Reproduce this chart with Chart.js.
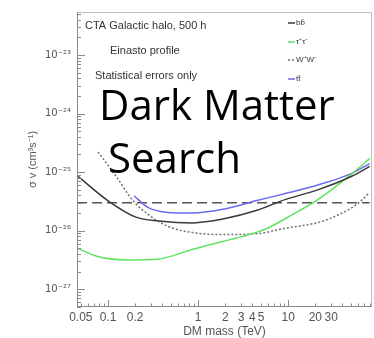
<!DOCTYPE html>
<html>
<head>
<meta charset="utf-8">
<script src="https://cdn.jsdelivr.net/npm/chart.js@4"></script>
<style>
  body { margin: 0; background: #fff; }
  canvas { display: block; }
</style>
</head>
<body>
<canvas id="dmChart" width="374" height="338"></canvas>
<script>
// masses in TeV, <sigma v> in cm^3 s^-1
var massBB = [0.0455, 0.103, 0.204, 0.367, 0.875, 1.88, 4.49, 9.2, 21.3, 50.7, 80];
var svBB = [8.7e-26, 3.15e-26, 1.71e-26, 1.47e-26, 1.36e-26, 1.58e-26, 2.23e-26, 3.4e-26, 4.99e-26, 8.5e-26, 1.25e-25];

var massTau = [0.0455, 0.0736, 0.158, 0.367, 0.875, 1.88, 3.06, 5.62, 9.9, 21.3, 50.7, 80];
var svTau = [5.1e-27, 3.7e-27, 3.18e-27, 3.3e-27, 4.84e-27, 6.58e-27, 7.94e-27, 1.07e-26, 1.7e-26, 3.39e-26, 9.33e-26, 1.7e-25];

var massWW = [0.0775, 0.123, 0.189, 0.285, 0.475, 0.875, 1.88, 4.49, 9.16, 21.3, 34.7, 57.5, 80];
var svWW = [2.21e-25, 8.5e-26, 3.27e-26, 1.85e-26, 1.17e-26, 9.3e-27, 8.6e-27, 8.9e-27, 1.1e-26, 1.38e-26, 1.82e-26, 2.82e-26, 4.47e-26];

var massTT = [0.194, 0.277, 0.44, 0.875, 1.88, 4.49, 10, 21.3, 50.7, 80];
var svTT = [3.96e-26, 2.5e-26, 2.07e-26, 2.0e-26, 2.32e-26, 3.27e-26, 4.45e-26, 6.04e-26, 9.55e-26, 1.4e-25];

// thermal relic cross section
var massRelic = [0.0453, 80];
var svRelic = [3e-26, 3e-26];

var massLabels = [0.05, 0.1, 0.2, 1, 2, 3, 4, 5, 10, 20, 30];
var xMin = 0.0453, xMax = 85;
var yMin = 5e-28, yMax = 5.4e-23;

var notes = ["CTA Galactic halo, 500 h", "Einasto profile", "Statistical errors only"];
var overlay = ["Dark Matter", "Search"];

function pts(xs, ys) {
  return xs.map(function (x, i) { return { x: x, y: ys[i] }; });
}

var sup = { "-": "\u207B", "0": "\u2070", "1": "\u00B9", "2": "\u00B2", "3": "\u00B3", "4": "\u2074",
  "5": "\u2075", "6": "\u2076", "7": "\u2077", "8": "\u2078", "9": "\u2079" };
function powLabel(e) {
  return "10" + String(e).split("").map(function (c) { return sup[c]; }).join("");
}

function logTicks(min, max) {
  var out = [];
  for (var e = Math.floor(Math.log10(min)); e <= Math.ceil(Math.log10(max)); e++) {
    for (var m = 1; m < 10; m++) {
      var v = +(m * Math.pow(10, e)).toPrecision(3);
      if (v >= min && v <= max) out.push({ value: v, major: m === 1 });
    }
  }
  return out;
}

var decor = {
  id: "decor",
  afterDraw: function (chart) {
    var ctx = chart.ctx, a = chart.chartArea;
    var xs = chart.scales.x, ys = chart.scales.y;
    ctx.save();
    // frame
    ctx.strokeStyle = "#bdbdbd";
    ctx.lineWidth = 1;
    ctx.strokeRect(a.left + 0.5, a.top + 0.5, a.right - a.left - 1, a.bottom - a.top - 1);
    ctx.strokeStyle = "#8a8a8a";
    ctx.beginPath();
    ctx.moveTo(a.left + 0.5, a.top);
    ctx.lineTo(a.left + 0.5, a.bottom - 0.5);
    ctx.lineTo(a.right, a.bottom - 0.5);
    ctx.stroke();
    // inward ticks
    ctx.beginPath();
    xs.ticks.forEach(function (t) {
      var px = Math.round(xs.getPixelForValue(t.value)) + 0.5;
      var len = t.major ? 7 : 3.5;
      ctx.moveTo(px, a.bottom);
      ctx.lineTo(px, a.bottom - len);
    });
    ys.ticks.forEach(function (t) {
      var py = Math.round(ys.getPixelForValue(t.value)) + 0.5;
      var len = t.major ? 8 : 4;
      ctx.moveTo(a.left, py);
      ctx.lineTo(a.left + len, py);
    });
    ctx.stroke();
    // notes
    ctx.fillStyle = "#333";
    ctx.font = "11px 'Liberation Sans', Arial, sans-serif";
    ctx.textBaseline = "alphabetic";
    ctx.fillText(notes[0], 85, 29);
    ctx.fillText(notes[1], 110, 54);
    ctx.fillText(notes[2], 95, 79);
    // legend
    ctx.font = "8px 'Liberation Sans', Arial, sans-serif";
    ctx.textBaseline = "middle";
    var legY = [23, 42, 60, 79];
    chart.data.datasets.slice(0, 4).forEach(function (ds, i) {
      ctx.strokeStyle = ds.borderColor;
      ctx.lineWidth = 1.5;
      ctx.setLineDash(ds.borderDash || []);
      ctx.beginPath();
      ctx.moveTo(288, legY[i]);
      ctx.lineTo(295, legY[i]);
      ctx.stroke();
      ctx.setLineDash([]);
      ctx.fillStyle = "#333";
      ctx.fillText(ds.label, 296, legY[i]);
    });
    // overlay text
    ctx.fillStyle = "#000";
    ctx.font = "42px 'Open Sans', sans-serif";
    ctx.textBaseline = "alphabetic";
    ctx.fillText(overlay[0], 99, 120);
    ctx.fillText(overlay[1], 108, 173);
    ctx.restore();
  }
};

var ctx1 = document.getElementById("dmChart");
var dmChart = new Chart(ctx1, {
  type: "line",
  data: {
    datasets: [
      {
        label: "b\u0062\u0304",
        data: pts(massBB, svBB),
        borderColor: "#3a3a3a",
        borderWidth: 1.5
      },
      {
        label: "\u03C4\u207A\u03C4\u207B",
        data: pts(massTau, svTau),
        borderColor: "#5fe35f",
        borderWidth: 1.5
      },
      {
        label: "W\u207AW\u207B",
        data: pts(massWW, svWW),
        borderColor: "#707070",
        borderDash: [2, 2],
        borderWidth: 1.5
      },
      {
        label: "t\u0074\u0304",
        data: pts(massTT, svTT),
        borderColor: "#6b6bf0",
        borderWidth: 1.5
      },
      {
        label: "relic",
        data: pts(massRelic, svRelic),
        borderColor: "#555",
        borderDash: [10, 5],
        borderWidth: 1.5
      }
    ]
  },
  options: {
    responsive: false,
    animation: false,
    layout: { padding: { top: 4, right: 2, left: 0, bottom: 0 } },
    elements: {
      point: { radius: 0 },
      line: { fill: false, cubicInterpolationMode: "monotone" }
    },
    plugins: { legend: { display: false }, tooltip: { enabled: false } },
    scales: {
      x: {
        type: "logarithmic",
        min: xMin,
        max: xMax,
        grid: { display: false, drawTicks: false },
        border: { display: false },
        afterBuildTicks: function (s) { s.ticks = logTicks(xMin, xMax); },
        afterFit: function (s) { s.height = 31; },
        ticks: {
          autoSkip: false,
          maxRotation: 0,
          padding: 3,
          color: "#555",
          font: { family: "'Liberation Sans', Arial, sans-serif", size: 12 },
          callback: function (v) { return massLabels.indexOf(+v.toPrecision(3)) >= 0 ? String(+v.toPrecision(3)) : ""; }
        },
        title: {
          display: true,
          text: "DM mass (TeV)",
          color: "#555",
          font: { family: "'Liberation Sans', Arial, sans-serif", size: 12, lineHeight: 1 },
          padding: { top: 0, bottom: 0 }
        }
      },
      y: {
        type: "logarithmic",
        min: yMin,
        max: yMax,
        grid: { display: false, drawTicks: false },
        border: { display: false },
        afterBuildTicks: function (s) { s.ticks = logTicks(yMin, yMax); },
        afterFit: function (s) { s.width = 77; },
        ticks: {
          autoSkip: false,
          padding: 6,
          color: "#555",
          font: { family: "'DejaVu Sans', sans-serif", size: 10 },
          callback: function (v) {
            var e = Math.log10(v);
            return Math.abs(e - Math.round(e)) < 1e-6 ? powLabel(Math.round(e)) : "";
          }
        },
        title: {
          display: true,
          text: "\u03C3 v (cm\u00B3s\u207B\u00B9)",
          color: "#555",
          font: { family: "'Liberation Sans', Arial, sans-serif", size: 11 },
          padding: { top: 26 }
        }
      }
    }
  },
  plugins: [decor]
});
</script>
</body>
</html>
